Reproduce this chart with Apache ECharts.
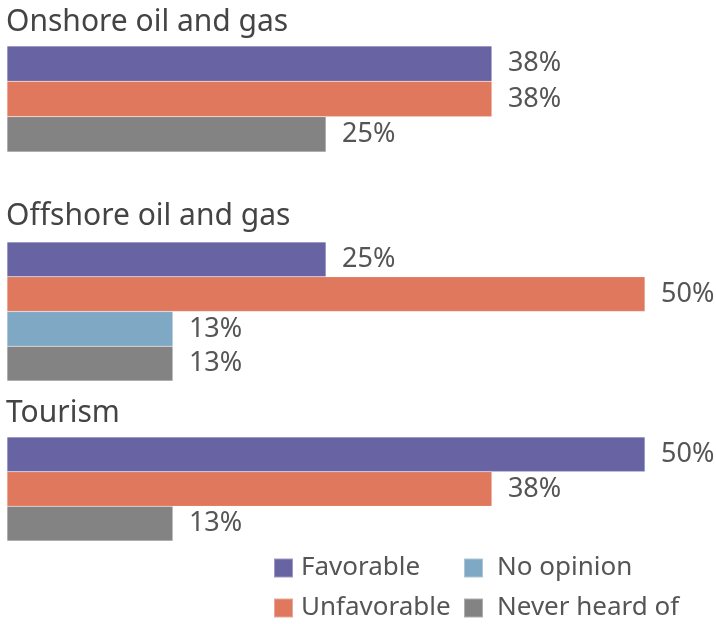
<!DOCTYPE html>
<html>
<head>
<meta charset="utf-8">
<script src="https://cdn.jsdelivr.net/npm/echarts@6/dist/echarts.min.js"></script>
<style>html,body{margin:0;padding:0;background:#fff}#c{width:716px;height:624px}</style>
</head>
<body>
<div id="c"></div>
<script>
const groups = ['Onshore oil and gas', 'Offshore oil and gas', 'Tourism'];
const statuses = ['Favorable', 'Unfavorable', 'No opinion', 'Never heard of'];
const favorable = [38, 25, 50];
const unfavorable = [38, 50, 38];
const noOpinion = [null, 13, null];
const neverHeard = [25, 13, 13];

const values = [favorable, unfavorable, noOpinion, neverHeard];
const colors = ['#6864a4', '#df785d', '#7fa8c4', '#838383'];
const FONT = '"Noto Sans", "Open Sans", sans-serif';

const gridPos = [
  {top: 46, height: 106},
  {top: 242, height: 139},
  {top: 437, height: 104}
];
const titleTops = [7, 201, 398];

const grids = [], xAxes = [], yAxes = [], series = [], titles = [];
groups.forEach((g, gi) => {
  grids.push({left: 7, width: 638, top: gridPos[gi].top, height: gridPos[gi].height, containLabel: false});
  xAxes.push({type: 'value', gridIndex: gi, min: 0, max: 50, show: false});
  const rows = statuses.filter((s, si) => values[si][gi] != null);
  yAxes.push({type: 'category', gridIndex: gi, data: rows, inverse: true, show: false});
  titles.push({text: g, left: 6, top: titleTops[gi], padding: 0,
    textStyle: {fontFamily: FONT, fontSize: 30, fontWeight: 'normal', color: '#444'}});
  statuses.forEach((s, si) => {
    const v = values[si][gi];
    if (v == null) return;
    series.push({
      name: s, type: 'bar', xAxisIndex: gi, yAxisIndex: gi, stack: 'g' + gi,
      barCategoryGap: '0%',
      data: rows.map(r => r === s ? v : '-'),
      itemStyle: {color: colors[si], borderColor: 'rgba(255,255,255,0.35)', borderWidth: 0.5},
      label: {show: true, position: 'right', distance: 16, formatter: '{c}%',
        fontFamily: FONT, fontSize: 27, color: '#555'}
    });
  });
});

const legendPos = [
  {left: 273, top: 553, pad: 3}, {left: 273, top: 593, pad: 3},
  {left: 463, top: 553, pad: 9}, {left: 463, top: 593, pad: 9}
];
const legends = statuses.map((s, si) => ({
  data: [s], left: legendPos[si].left, top: legendPos[si].top, padding: 0,
  icon: 'rect', itemWidth: 19, itemHeight: 19, itemGap: 0, selectedMode: false,
  textStyle: {fontFamily: FONT, fontSize: 26, lineHeight: 30, color: '#555', padding: [0, 0, 0, legendPos[si].pad]}
}));

const chart = echarts.init(document.getElementById('c'), null, {renderer: 'canvas'});
chart.setOption({
  animation: false,
  color: colors,
  title: titles,
  legend: legends,
  grid: grids,
  xAxis: xAxes,
  yAxis: yAxes,
  series: series
});
</script>
</body>
</html>
